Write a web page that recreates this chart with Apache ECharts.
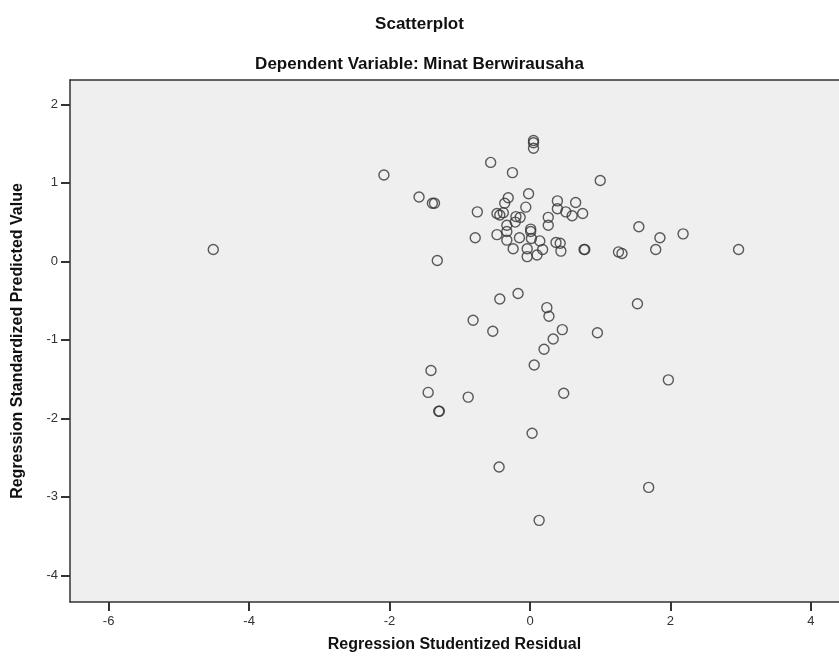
<!DOCTYPE html>
<html>
<head>
<meta charset="utf-8">
<script src="https://cdn.jsdelivr.net/npm/echarts@6/dist/echarts.min.js"></script>
<style>
html,body{margin:0;padding:0;background:#fff;}
#chart{width:839px;height:665px;}
</style>
</head>
<body>
<div id="chart"></div>
<script>
// Regression Studentized Residual (x)
const residuals = [
  -4.51, -2.08, -1.58, -1.39, -1.36, -1.32, -0.75, -0.78, -0.56, -0.25,
   0.05,  0.05,  0.05,  1.00, -0.02, -0.31, -0.36, -0.06, -0.47, -0.43,
  -0.38, -0.20, -0.14, -0.33, -0.21,  0.26,  0.26,  0.39,  0.39,  0.51,
   0.60,  0.65,  0.75,  1.55,  1.85,  2.18,  1.79,  2.97,  1.26,  1.31,
   0.77,  0.78, -0.47, -0.33, -0.33, -0.15,  0.01,  0.01,  0.02,  0.14,
   0.18,  0.10, -0.04, -0.04, -0.24,  0.37,  0.43,  0.44, -0.43, -0.17,
   0.24,  0.27,  1.53, -0.81, -0.53,  0.46,  0.96,  0.33,  0.20,  0.06,
  -1.41, -1.45, -0.88, -1.30, -1.29,  0.48,  1.97,  0.03, -0.44,  0.13,
   1.69
];
// Regression Standardized Predicted Value (y)
const predicted = [
   0.15,  1.10,  0.82,  0.74,  0.74,  0.01,  0.63,  0.30,  1.26,  1.13,
   1.54,  1.51,  1.44,  1.03,  0.86,  0.81,  0.74,  0.69,  0.61,  0.59,
   0.62,  0.57,  0.56,  0.46,  0.50,  0.56,  0.46,  0.77,  0.67,  0.63,
   0.58,  0.75,  0.61,  0.44,  0.30,  0.35,  0.15,  0.15,  0.12,  0.10,
   0.15,  0.15,  0.34,  0.38,  0.27,  0.30,  0.41,  0.38,  0.29,  0.26,
   0.15,  0.08,  0.16,  0.06,  0.16,  0.24,  0.23,  0.13, -0.48, -0.41,
  -0.59, -0.70, -0.54, -0.75, -0.89, -0.87, -0.91, -0.99, -1.12, -1.32,
  -1.39, -1.67, -1.73, -1.91, -1.91, -1.68, -1.51, -2.19, -2.62, -3.30,
  -2.88
];
const xTicks = [-6, -4, -2, 0, 2, 4];
const yTicks = [-4, -3, -2, -1, 0, 1, 2];

const titleText = 'Scatterplot';
const subtitleText = 'Dependent Variable: Minat Berwirausaha';
const xName = 'Regression Studentized Residual';
const yName = 'Regression Standardized Predicted Value';

const points = residuals.map((x, i) => [x, predicted[i]]);
const font = '"Liberation Sans", Arial, sans-serif';
const xMin = -6.55, xMax = 4.40;

const chart = echarts.init(document.getElementById('chart'), null, {renderer: 'canvas'});
chart.setOption({
  backgroundColor: '#ffffff',
  animation: false,
  title: [
    {text: titleText, left: 'center', top: 11,
     textStyle: {fontFamily: font, fontSize: 17, fontWeight: 'bold', color: '#111'}},
    {text: subtitleText, left: 'center', top: 51,
     textStyle: {fontFamily: font, fontSize: 17, fontWeight: 'bold', color: '#111'}}
  ],
  grid: {
    left: 70, top: 80, right: 0, bottom: 63,
    show: true, backgroundColor: '#efefef', borderWidth: 0
  },
  xAxis: [{
    type: 'value', min: xMin, max: xMax,
    name: xName, nameLocation: 'middle', nameGap: 35,
    nameTextStyle: {fontFamily: font, fontSize: 16, fontWeight: 'bold', color: '#111'},
    splitLine: {show: false},
    axisLine: {show: true, onZero: false, lineStyle: {color: '#333', width: 1.5}},
    axisTick: {show: true, inside: false, length: 9, customValues: xTicks, lineStyle: {color: '#333', width: 2}},
    axisLabel: {customValues: xTicks, fontFamily: font, fontSize: 13, color: '#333', margin: 13}
  }, {
    type: 'value', position: 'top', min: xMin, max: xMax,
    splitLine: {show: false},
    axisLine: {show: true, onZero: false, lineStyle: {color: '#333', width: 1.5}},
    axisTick: {show: false},
    axisLabel: {show: false}
  }],
  yAxis: {
    type: 'value', min: -4.34, max: 2.31,
    name: yName, nameLocation: 'middle', nameGap: 44,
    nameTextStyle: {fontFamily: font, fontSize: 16, fontWeight: 'bold', color: '#111'},
    splitLine: {show: false},
    axisLine: {show: true, onZero: false, lineStyle: {color: '#333', width: 1.5}},
    axisTick: {show: true, inside: false, length: 9, customValues: yTicks, lineStyle: {color: '#333', width: 2}},
    axisLabel: {customValues: yTicks, fontFamily: font, fontSize: 13, color: '#333', margin: 12}
  },
  series: [{
    type: 'scatter',
    xAxisIndex: 0,
    data: points,
    symbol: 'circle',
    symbolSize: 10,
    itemStyle: {color: 'rgba(0,0,0,0)', borderColor: '#333', borderWidth: 1.4},
    emphasis: {disabled: true}
  }]
});
</script>
</body>
</html>
